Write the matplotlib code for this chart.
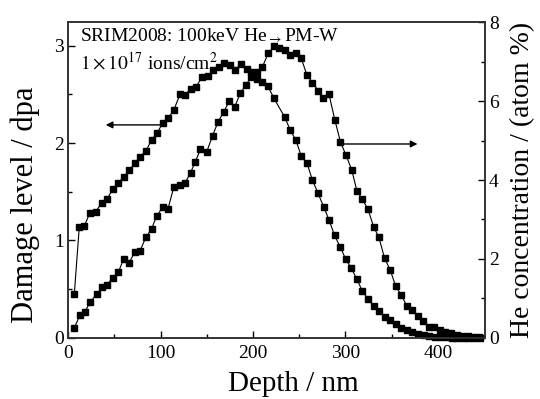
import matplotlib
matplotlib.use("Agg")
from matplotlib import pyplot as plt
from matplotlib.ticker import MultipleLocator

plt.rcParams['font.family'] = ['Liberation Serif', 'DejaVu Serif']
plt.rcParams['mathtext.fontset'] = 'stix'

# damage profile (left axis, dpa)
damage_depth = [6.5, 11.9, 17.3, 23.5, 29.9, 36.1, 41.8, 48.0, 54.1, 60.5,
                65.9, 72.4, 77.8, 84.0, 90.2, 95.9, 102.1, 108.1, 114.3, 120.8,
                126.1, 132.3, 138.4, 144.9, 151.0, 156.8, 162.9, 168.9, 174.5, 180.4,
                186.7, 192.9, 198.3, 204.5, 210.2, 215.9, 222.7, 234.3, 240.4, 246.2,
                252.3, 258.4, 264.2, 270.3, 276.4, 282.2, 288.3, 294.5, 300.2, 306.4,
                312.4, 318.3, 324.3, 330.5, 336.2, 342.4, 348.5, 354.3, 360.4, 366.5,
                372.6, 378.8, 384.9, 391.0, 397.0, 402.9, 409.1, 415.1, 421.3, 427.2,
                433.2, 439.4, 445.4]
damage_dpa = [0.449, 1.141, 1.148, 1.285, 1.295, 1.387, 1.422, 1.525, 1.593, 1.655,
              1.724, 1.792, 1.860, 1.919, 2.032, 2.101, 2.203, 2.255, 2.340, 2.499,
              2.494, 2.553, 2.580, 2.679, 2.687, 2.751, 2.785, 2.820, 2.798, 2.746,
              2.813, 2.758, 2.725, 2.659, 2.623, 2.587, 2.458, 2.265, 2.130, 2.032,
              1.864, 1.792, 1.621, 1.484, 1.346, 1.210, 1.050, 0.929, 0.809, 0.713,
              0.600, 0.480, 0.398, 0.326, 0.277, 0.210, 0.182, 0.138, 0.103, 0.079,
              0.055, 0.038, 0.025, 0.015, 0.009, 0.005, 0.003, 0.002, 0.001, 0.001,
              0.0, 0.0, 0.0]

# He concentration profile (right axis, atom %)
he_depth = [6.5, 12.6, 18.0, 23.8, 30.7, 36.4, 41.8, 48.0, 54.1, 59.9,
            65.9, 72.1, 77.5, 84.0, 90.2, 95.6, 102.1, 107.8, 114.3, 120.8,
            126.2, 132.3, 137.5, 143.1, 149.9, 156.1, 162.2, 168.3, 174.3, 180.2,
            186.2, 192.1, 198.1, 204.0, 210.2, 216.4, 222.6, 228.6, 234.3, 240.0,
            246.2, 251.9, 258.3, 264.3, 270.7, 275.7, 282.2, 288.6, 294.5, 300.5,
            306.7, 312.4, 318.3, 324.3, 330.5, 336.2, 342.4, 348.5, 354.3, 360.4,
            366.5, 372.3, 378.4, 384.5, 390.3, 396.4, 402.6, 408.3, 414.5, 420.5,
            426.4, 432.4, 438.6, 444.3]
he_conc = [0.254, 0.568, 0.659, 0.913, 1.101, 1.278, 1.337, 1.522, 1.659, 1.996,
           1.902, 2.181, 2.199, 2.546, 2.764, 3.087, 3.307, 3.256, 3.830, 3.873,
           3.916, 4.185, 4.464, 4.778, 4.717, 5.123, 5.478, 5.732, 5.998, 5.859,
           6.198, 6.409, 6.612, 6.738, 6.873, 7.213, 7.390, 7.342, 7.296, 7.170,
           7.228, 7.106, 6.663, 6.472, 6.264, 6.072, 6.173, 5.521, 4.971, 4.634,
           4.266, 3.728, 3.510, 3.264, 2.815, 2.546, 2.014, 1.717, 1.311, 1.083,
           0.804, 0.703, 0.550, 0.431, 0.279, 0.264, 0.195, 0.145, 0.112, 0.076,
           0.051, 0.036, 0.025, 0.018]

fig = plt.figure(figsize=(5.4, 3.99), dpi=100)
ax = fig.add_axes([0.1265, 0.1536, 0.7715, 0.7905])
ax2 = ax.twinx()

ax.plot(damage_depth, damage_dpa, '-s', color='black', lw=0.8, ms=4, clip_on=False)
ax2.plot(he_depth, he_conc, '-s', color='black', lw=0.8, ms=4, clip_on=False)

ax.set_xlim(0, 451)
ax.set_ylim(0, 3.24)
ax2.set_ylim(0, 8)

ax.xaxis.set_major_locator(MultipleLocator(100))
ax.xaxis.set_minor_locator(MultipleLocator(50))
ax.yaxis.set_major_locator(MultipleLocator(1))
ax.yaxis.set_minor_locator(MultipleLocator(0.5))
ax2.yaxis.set_major_locator(MultipleLocator(2))
ax2.yaxis.set_minor_locator(MultipleLocator(1))

for a in (ax, ax2):
    a.tick_params(which='major', direction='in', length=5, width=1, labelsize=14, pad=3)
    a.tick_params(which='minor', direction='in', length=3, width=1)
    for s in a.spines.values():
        s.set_linewidth(1.2)
        s.set_color('#333333')
ax.tick_params(axis='x', pad=5)

ax.set_xlabel('Depth / nm', fontsize=21)
ax.xaxis.set_label_coords(0.54, -0.105)
ax.set_ylabel('Damage level / dpa', fontsize=22)
ax.yaxis.set_label_coords(-0.068, 0.42)
ax2.set_ylabel('He concentration / (atom %)', fontsize=20, labelpad=8)

# arrows pointing to each axis
ax.annotate('', xy=(37.5, 2.186), xytext=(103, 2.186),
            arrowprops=dict(arrowstyle='-|>', color='black', lw=1, mutation_scale=10))
ax.annotate('', xy=(381, 1.99), xytext=(295.6, 1.99),
            arrowprops=dict(arrowstyle='-|>', color='black', lw=1, mutation_scale=10))

ax.text(0.028, 0.985, r'SRIM2008: 100keV He$_{\rightarrow}$PM-W', transform=ax.transAxes,
        fontsize=14, va='top', ha='left')
ax.text(0.028, 0.874, r'$1\times10^{17}$ ions/cm$^{2}$', transform=ax.transAxes,
        fontsize=14, va='center', ha='left')

fig.savefig('out.png', dpi=100)
